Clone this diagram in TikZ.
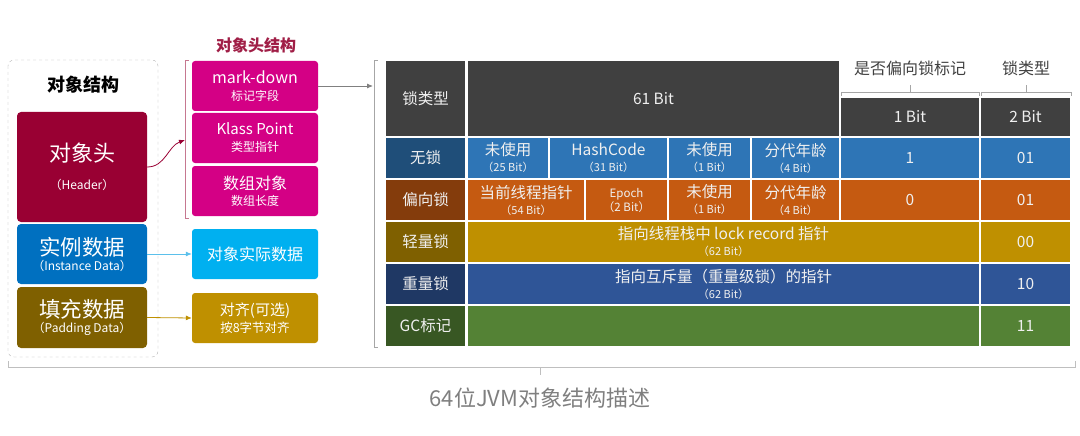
\documentclass[tikz,border=0pt]{standalone}
\usepackage{fontspec}
\setmainfont{Noto Sans CJK SC}
\usepackage{xcolor}
\definecolor{objred}{RGB}{153,0,51}
\definecolor{objblue}{RGB}{0,112,192}
\definecolor{objbrown}{RGB}{127,96,0}
\definecolor{hdmagenta}{RGB}{212,0,133}
\definecolor{hdcyan}{RGB}{0,176,240}
\definecolor{hdgold}{RGB}{191,144,0}
\definecolor{titlered}{RGB}{160,30,70}
\definecolor{tgray}{RGB}{64,64,64}
\definecolor{nolockdk}{RGB}{31,78,121}
\definecolor{nolock}{RGB}{46,117,182}
\definecolor{biaseddk}{RGB}{132,60,12}
\definecolor{biased}{RGB}{197,90,17}
\definecolor{lightdk}{RGB}{127,96,0}
\definecolor{lightlk}{RGB}{191,144,0}
\definecolor{heavydk}{RGB}{31,56,100}
\definecolor{heavy}{RGB}{47,85,151}
\definecolor{gcdk}{RGB}{56,87,35}
\definecolor{gcmark}{RGB}{84,130,53}
\definecolor{capgray}{RGB}{127,127,127}
\definecolor{arrsky}{RGB}{91,192,235}
\usepackage{tikz}
\usetikzlibrary{arrows.meta, positioning}

\newcommand{\setfs}[2]{\fontsize{#1}{#2}\selectfont}

\begin{document}
\begin{tikzpicture}[x=1pt, y=-1pt,
  objbox/.style={rounded corners=4pt, text=white, align=center, inner sep=0pt, minimum width=130pt},
  hdbox/.style={rounded corners=3pt, text=white, align=center, inner sep=0pt, minimum width=126pt, minimum height=50pt},
  cell/.style={draw=white, line width=1.3pt, inner sep=0pt, text=white!94!black, align=center, font=\setfs{15.5}{16}},
  arr/.style={-{Latex[length=6pt, width=5pt]}, line width=0.8pt}]
  \useasboundingbox (0,0) rectangle (1080,436);

  % object structure
  \draw[gray!60, dashed, rounded corners=6pt] (8,60) rectangle (158,357);
  \node[font=\bfseries\setfs{18}{20}] (objtitle) at (83,85) {对象结构};
  \node[objbox, fill=objred, minimum height=110pt] (header) at (82,167) {\setfs{22}{26}对象头\\[15pt]{\setfs{12}{14}（Header）}};
  \node[objbox, fill=objblue, minimum height=60pt] (instance) at (82,254) {\setfs{21.5}{23}实例数据\\[2pt]{\setfs{12}{14}（Instance Data）}};
  \node[objbox, fill=objbrown, minimum height=61pt] (padding) at (82,317.5) {\setfs{21.5}{23}填充数据\\[2pt]{\setfs{12}{14}（Padding Data）}};

  % object header structure
  \node[font=\bfseries\setfs{16}{18}, text=titlered] (hdtitle) at (256,45) {对象头结构};
  \node[hdbox, fill=hdmagenta] (markdown) at (255,86) {\setfs{16}{18}mark-down\\[5pt]{\setfs{12}{14}标记字段}};
  \node[hdbox, fill=hdmagenta] (klass) at (255,138) {\setfs{15}{18}Klass Point\\[5pt]{\setfs{12}{14}类型指针}};
  \node[hdbox, fill=hdmagenta] (array) at (255,191) {\setfs{16}{18}数组对象\\[4pt]{\setfs{12}{14}数组长度}};
  \node[hdbox, fill=hdcyan] (actual) at (255,254) {\setfs{16}{18}对象实际数据};
  \node[hdbox, fill=hdgold] (align) at (255,318) {\setfs{15}{18}对齐(可选)\\[3pt]{\setfs{12.5}{14}按8字节对齐}};
  \draw[titlered!60, line width=0.6pt] (189,60) -- (185,60) -- (185,218) -- (189,218);
  \coordinate (hdbrace) at (185,140);

  \draw[arr, objred] (header.east) to[out=0, in=200] (hdbrace);
  \draw[arr, arrsky] (instance.east) -- (actual.west);
  \draw[arr, hdgold] (padding.east) -- (align.west);

  % mark word table
  \draw[gray!70, line width=0.6pt] (378,60) -- (374,60) -- (374,347) -- (378,347);
  \coordinate (tbrace) at (373,86);
  \draw[arr, gray] (markdown.east) -- (tbrace);

  \node[cell, fill=tgray, minimum width=81pt, minimum height=77pt] (locktype) at (425.5,98.5) {锁类型};
  \node[cell, fill=tgray, minimum width=373pt, minimum height=77pt] (bits61) at (653.5,98.5) {61 Bit};
  \node[cell, fill=tgray, minimum width=140pt, minimum height=40pt] (bit1) at (910,117) {1 Bit};
  \node[cell, fill=tgray, minimum width=91pt, minimum height=40pt] (bit2) at (1025.5,117) {2 Bit};

  % no lock
  \node[cell, fill=nolockdk, minimum width=81pt, minimum height=42pt] (nolock) at (425.5,158) {无锁};
  \node[cell, fill=nolock, minimum width=82pt, minimum height=42pt] (unusedA) at (508,158) {未使用\\[0pt]{\setfs{11}{12}（25 Bit）}};
  \node[cell, fill=nolock, minimum width=119pt, minimum height=42pt] (hashcode) at (608.5,158) {HashCode\\[0pt]{\setfs{11}{12}（31 Bit）}};
  \node[cell, fill=nolock, minimum width=83pt, minimum height=42pt] (unusedB) at (709.5,158) {未使用\\[0pt]{\setfs{11}{12}（1 Bit）}};
  \node[cell, fill=nolock, minimum width=89pt, minimum height=42pt] (ageA) at (795.5,158) {分代年龄\\[0pt]{\setfs{11}{12}（4 Bit）}};
  \node[cell, fill=nolock, minimum width=140pt, minimum height=42pt] (flagA) at (910,158) {1};
  \node[cell, fill=nolock, minimum width=91pt, minimum height=42pt] (tagA) at (1025.5,158) {01};

  % biased lock
  \node[cell, fill=biaseddk, minimum width=81pt, minimum height=42pt] (biasedlk) at (425.5,200) {偏向锁};
  \node[cell, fill=biased, minimum width=118pt, minimum height=42pt] (threadptr) at (526,200) {当前线程指针\\[0pt]{\setfs{11}{12}（54 Bit）}};
  \node[cell, fill=biased, minimum width=83pt, minimum height=42pt, font=\setfs{11.5}{13}] (epoch) at (626.5,200) {Epoch\\[1pt]（2 Bit）};
  \node[cell, fill=biased, minimum width=83pt, minimum height=42pt] (unusedC) at (709.5,200) {未使用\\[0pt]{\setfs{11}{12}（1 Bit）}};
  \node[cell, fill=biased, minimum width=89pt, minimum height=42pt] (ageB) at (795.5,200) {分代年龄\\[0pt]{\setfs{11}{12}（4 Bit）}};
  \node[cell, fill=biased, minimum width=140pt, minimum height=42pt] (flagB) at (910,200) {0};
  \node[cell, fill=biased, minimum width=91pt, minimum height=42pt] (tagB) at (1025.5,200) {01};

  % lightweight lock
  \node[cell, fill=lightdk, minimum width=81pt, minimum height=42pt] (lightlk) at (425.5,242) {轻量锁};
  \node[cell, fill=lightlk, minimum width=513pt, minimum height=42pt] (lockrec) at (723.5,242) {指向线程栈中 lock record 指针\\[0pt]{\setfs{11}{12}（62 Bit）}};
  \node[cell, fill=lightlk, minimum width=91pt, minimum height=42pt] (tagC) at (1025.5,242) {00};

  % heavyweight lock
  \node[cell, fill=heavydk, minimum width=81pt, minimum height=42pt] (heavylk) at (425.5,284) {重量锁};
  \node[cell, fill=heavy, minimum width=513pt, minimum height=42pt] (monitor) at (723.5,284) {指向互斥量（重量级锁）的指针\\[0pt]{\setfs{11}{12}（62 Bit）}};
  \node[cell, fill=heavy, minimum width=91pt, minimum height=42pt] (tagD) at (1025.5,284) {10};

  % gc mark
  \node[cell, fill=gcdk, minimum width=81pt, minimum height=42pt] (gclk) at (425.5,326) {GC标记};
  \node[cell, fill=gcmark, minimum width=513pt, minimum height=42pt] (gcempty) at (723.5,326) {};
  \node[cell, fill=gcmark, minimum width=91pt, minimum height=42pt] (tagE) at (1025.5,326) {11};

  % labels above the last two columns
  \node[font=\setfs{16}{18}, text=tgray] (biasflag) at (910,68) {是否偏向锁标记};
  \node[font=\setfs{16}{18}, text=tgray] (locktypeB) at (1026,68) {锁类型};
  \draw[gray!70, line width=0.6pt] (841,96) -- (841,92) -- (979,92) -- (979,96) (910,92) -- (910,85);
  \draw[gray!70, line width=0.6pt] (981,96) -- (981,92) -- (1071,92) -- (1071,96) (1026,92) -- (1026,85);

  % caption
  \draw[gray!50, line width=0.6pt] (8,361) -- (8,367) -- (1075,367) -- (1075,361) (540,367) -- (540,375);
  \node[font=\setfs{22}{24}, text=capgray] (caption) at (540,398) {64位JVM对象结构描述};
\end{tikzpicture}
\end{document}
